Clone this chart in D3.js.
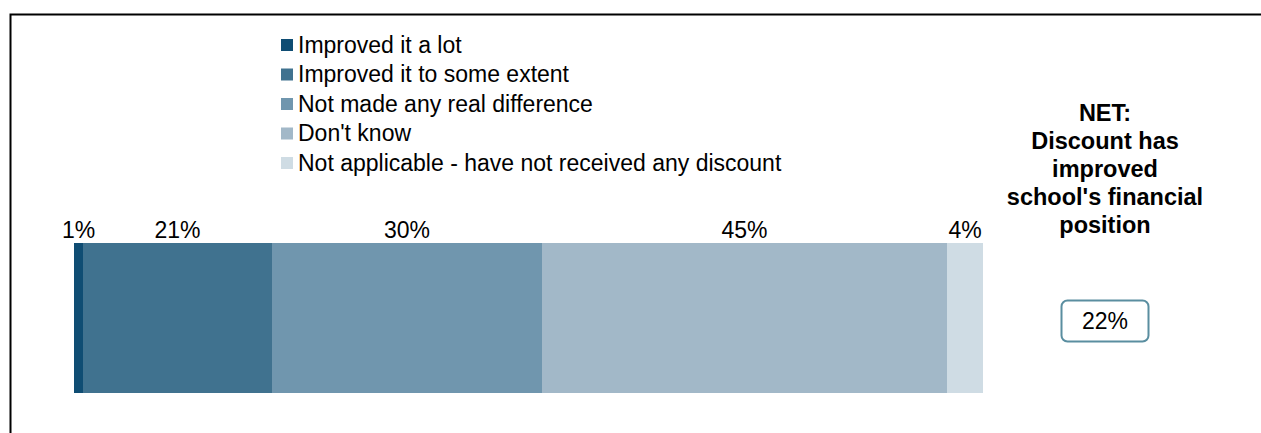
<!DOCTYPE html>
<html>
<head>
<meta charset="utf-8">
<script src="https://cdn.jsdelivr.net/npm/d3@7"></script>
<style>
  html, body { margin: 0; padding: 0; background: #ffffff; }
  svg { display: block; font-family: Arial, "Liberation Sans", sans-serif; }
</style>
</head>
<body>
<svg id="chart" width="1261" height="433"></svg>
<script>
// Survey responses: effect of the discount on the school's financial position (%)
const categories = [
  "Improved it a lot",
  "Improved it to some extent",
  "Not made any real difference",
  "Don't know",
  "Not applicable - have not received any discount"
];
const values = [1, 21, 30, 45, 4];
const colors = ["#0f4d73", "#40728f", "#7096ae", "#a2b8c8", "#cfdce4"];
const netTitle = ["NET:", "Discount has", "improved", "school's financial", "position"];
const netIndices = [0, 1]; // categories counted as "improved"

const svg = d3.select("#chart");
const fontSize = 23;

// Frame lines (top and left)
svg.append("path")
  .attr("d", "M10.5,433 L10.5,14.5 L1261,14.5")
  .attr("fill", "none")
  .attr("stroke", "#000")
  .attr("stroke-width", 2);

// Stacked positions
let acc = 0;
const stacked = values.map((v, i) => {
  const d = { key: categories[i], value: v, x0: acc, x1: acc + v, color: colors[i] };
  acc += v;
  return d;
});

const x = d3.scaleLinear().domain([0, d3.sum(values)]).range([74, 983]);
const y = d3.scaleBand().domain(["all"]).range([243, 393]).padding(0);

// Bar segments
svg.append("g").selectAll("rect")
  .data(stacked)
  .join("rect")
  .attr("x", d => x(d.x0))
  .attr("y", y("all"))
  .attr("width", d => x(d.x1) - x(d.x0))
  .attr("height", y.bandwidth())
  .attr("fill", d => d.color);

// Value labels above each segment
svg.append("g").selectAll("text")
  .data(stacked)
  .join("text")
  .attr("x", d => (x(d.x0) + x(d.x1)) / 2)
  .attr("y", y("all") - 5)
  .attr("text-anchor", "middle")
  .attr("font-size", fontSize)
  .attr("fill", "#000")
  .text(d => d.value + "%");

// Legend
const legendY = d3.scalePoint().domain(categories).range([45, 163]);
const legend = svg.append("g").selectAll("g")
  .data(categories)
  .join("g")
  .attr("transform", d => `translate(281,${legendY(d)})`);
legend.append("rect")
  .attr("x", 0).attr("y", -6)
  .attr("width", 12).attr("height", 12)
  .attr("fill", (d, i) => colors[i]);
legend.append("text")
  .attr("x", 17).attr("y", 7.5)
  .attr("font-size", fontSize)
  .attr("fill", "#000")
  .text(d => d);

// NET summary
const netX = 1105;
svg.append("g").selectAll("text")
  .data(netTitle)
  .join("text")
  .attr("x", netX)
  .attr("y", (d, i) => 121 + i * 28)
  .attr("text-anchor", "middle")
  .attr("font-size", 23.5)
  .attr("font-weight", "bold")
  .attr("fill", "#000")
  .text(d => d);

const netValue = d3.sum(netIndices, i => values[i]);
svg.append("rect")
  .attr("x", netX - 43.5).attr("y", 300.5)
  .attr("width", 87).attr("height", 41)
  .attr("rx", 6).attr("ry", 6)
  .attr("fill", "#fff")
  .attr("stroke", "#5a8ea0")
  .attr("stroke-width", 2);
svg.append("text")
  .attr("x", netX).attr("y", 329)
  .attr("text-anchor", "middle")
  .attr("font-size", fontSize)
  .attr("fill", "#000")
  .text(netValue + "%");
</script>
</body>
</html>
